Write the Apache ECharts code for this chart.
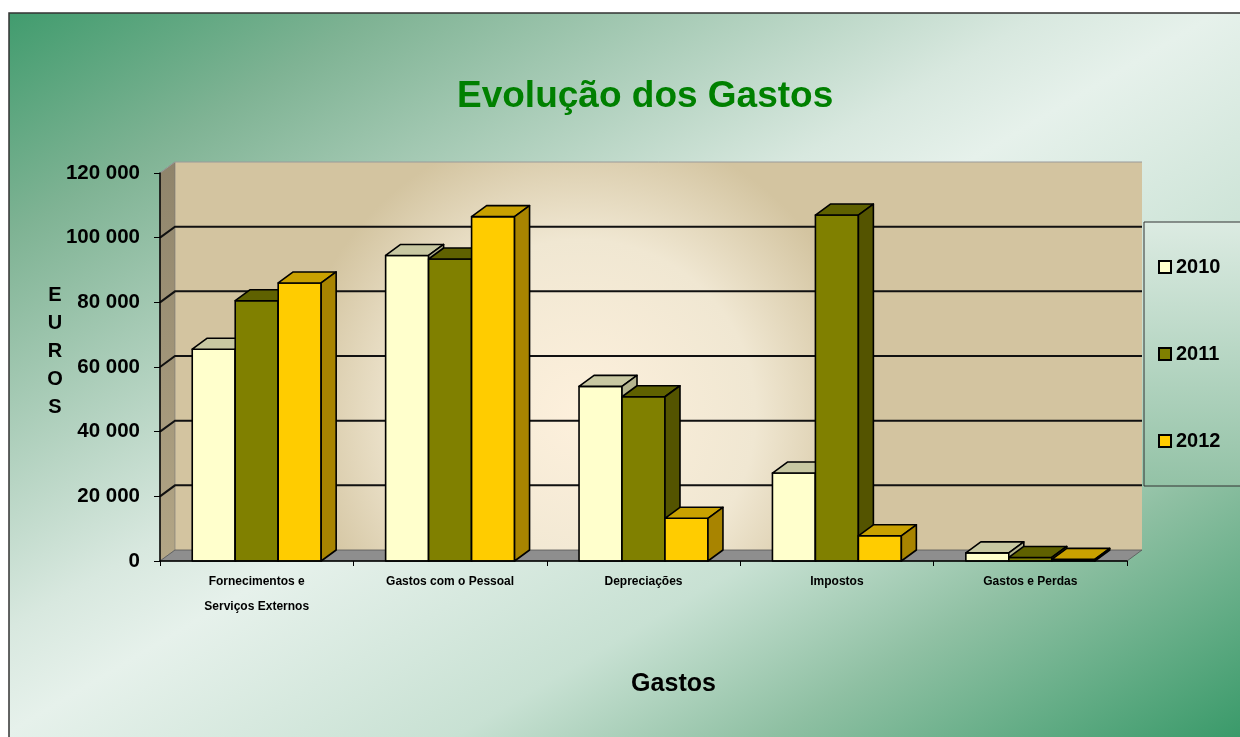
<!DOCTYPE html>
<html>
<head>
<meta charset="utf-8">
<script src="https://cdn.jsdelivr.net/npm/echarts@6/dist/echarts.min.js"></script>
<style>
  html, body { margin: 0; padding: 0; background: #fff; }
  #main { width: 1240px; height: 737px; }
</style>
</head>
<body>
<div id="main"></div>
<script>
// dados
var gastos = ['Fornecimentos e\nServiços Externos', 'Gastos com o Pessoal', 'Depreciações', 'Impostos', 'Gastos e Perdas'];
var anos = ['2010', '2011', '2012'];
var valores2010 = [65500, 94500, 54000, 27200, 2500];
var valores2011 = [80500, 93400, 50800, 107000, 1100];
var valores2012 = [86000, 106500, 13200, 7800, 500];
var yTicks = [0, 20000, 40000, 60000, 80000, 100000, 120000];

// cores: frente, topo, lado
var cores = [
    ['#ffffcc', '#c8c8a2', '#b4b48e'],
    ['#808000', '#5f6100', '#545400'],
    ['#ffcc00', '#c9a100', '#a88400']
];
var DX = 15, DY = -11;   // profundidade 3D
var FONT = 'Liberation Sans, Arial, sans-serif';

var myChart = echarts.init(document.getElementById('main'));

function fmt(v) {
    return String(v).replace(/\B(?=(\d{3})+(?!\d))/g, ' ');
}

// paredes, chão e linhas de grelha
function renderWalls(params, api) {
    var cs = params.coordSys;
    var x = cs.x, y = cs.y, w = cs.width, h = cs.height;
    var wallFill = new echarts.graphic.RadialGradient(0.42, 0.65, 0.75, [
        {offset: 0, color: '#fdf0dc'},
        {offset: 0.6, color: '#f0e7d2'},
        {offset: 1, color: '#d3c4a0'}
    ]);
    var sideFill = new echarts.graphic.LinearGradient(0, 0, 0, 1, [
        {offset: 0, color: '#8f846b'},
        {offset: 1, color: '#b3a686'}
    ]);
    var children = [
        {type: 'rect', shape: {x: x + DX, y: y + DY, width: w, height: h}, style: {fill: wallFill}},
        {type: 'polygon', shape: {points: [[x, y], [x + DX, y + DY], [x + DX, y + h + DY], [x, y + h]]},
            style: {fill: sideFill, stroke: '#777', lineWidth: 0.6}},
        {type: 'polygon', shape: {points: [[x, y + h], [x + DX, y + h + DY], [x + w + DX, y + h + DY], [x + w, y + h]]},
            style: {fill: '#8e8e8e', stroke: '#555', lineWidth: 0.8}}
    ];
    yTicks.forEach(function (v) {
        if (v === 0) return;
        var py = api.coord([0, v])[1];
        var top = v === yTicks[yTicks.length - 1];
        children.push({
            type: 'polyline',
            shape: {points: [[x, py], [x + DX, py + DY], [x + w + DX, py + DY]]},
            style: {fill: null, stroke: top ? '#9a9a9a' : '#111', lineWidth: top ? 1 : 2}
        });
    });
    return {type: 'group', children: children};
}

function makeBars(idx) {
    return function (params, api) {
        var cat = api.value(0);
        var top = api.coord([cat, api.value(1)]);
        var base = api.coord([cat, 0]);
        var band = api.size([1, 0])[0];
        var bw = band * 0.2222;
        var x0 = top[0] - 1.5 * bw + idx * bw;
        var t = top[1], b = base[1];
        var c = cores[idx];
        var line = {stroke: '#000', lineWidth: 1.6, lineJoin: 'round'};
        return {
            type: 'group',
            children: [
                {type: 'rect', shape: {x: x0, y: t, width: bw, height: b - t},
                    style: Object.assign({fill: c[0]}, line)},
                {type: 'polygon', shape: {points: [[x0, t], [x0 + DX, t + DY], [x0 + bw + DX, t + DY], [x0 + bw, t]]},
                    style: Object.assign({fill: c[1]}, line)},
                {type: 'polygon', shape: {points: [[x0 + bw, t], [x0 + bw + DX, t + DY], [x0 + bw + DX, b + DY], [x0 + bw, b]]},
                    style: Object.assign({fill: c[2]}, line)}
            ]
        };
    };
}

var series = [{
    type: 'custom',
    name: 'walls',
    z: 1,
    silent: true,
    renderItem: renderWalls,
    data: [[0, 0]]
}];
[valores2010, valores2011, valores2012].forEach(function (vals, i) {
    series.push({
        type: 'custom',
        name: anos[i],
        z: 3,
        itemStyle: {color: cores[i][0]},
        renderItem: makeBars(i),
        data: vals.map(function (v, k) { return [k, v]; })
    });
});

var bgFill = new echarts.graphic.LinearGradient(296, -176, 944, 913, [
    {offset: 0, color: '#3c9a6b'},
    {offset: 0.163, color: '#7fb394'},
    {offset: 0.43, color: '#d8e8df'},
    {offset: 0.5, color: '#e6f1eb'},
    {offset: 0.683, color: '#c8e1d3'},
    {offset: 0.81, color: '#8fc0a3'},
    {offset: 1, color: '#3a9a6a'}
], true);

option = {
    animation: false,
    color: [cores[0][0], cores[1][0], cores[2][0]],
    graphic: [{
        type: 'rect',
        z: -10,
        silent: true,
        shape: {x: 9, y: 13, width: 1240, height: 740},
        style: {fill: bgFill, stroke: '#333', lineWidth: 1.5}
    }],
    title: [{
        text: 'Evolução dos Gastos',
        left: 457,
        top: 78,
        padding: 0,
        textStyle: {color: '#008000', fontSize: 37, fontWeight: 'bold', fontFamily: FONT}
    }, {
        // título do eixo vertical, letra a letra
        text: 'E\nU\nR\nO\nS',
        left: 55,
        top: 281,
        padding: 0,
        textAlign: 'center',
        textStyle: {color: '#000', fontSize: 20, fontWeight: 'bold', fontFamily: FONT, lineHeight: 28}
    }],
    legend: {
        data: anos,
        orient: 'vertical',
        left: 1144,
        top: 222,
        padding: [35, 40, 35, 14],
        itemGap: 67,
        itemWidth: 12,
        itemHeight: 12,
        icon: 'rect',
        itemStyle: {borderColor: '#000', borderWidth: 2},
        backgroundColor: new echarts.graphic.LinearGradient(0, 0, 0, 1, [
            {offset: 0, color: '#dcebe2'},
            {offset: 1, color: '#93c2a6'}
        ]),
        borderColor: '#333',
        borderWidth: 1,
        textStyle: {fontSize: 20, fontWeight: 'bold', color: '#000', fontFamily: FONT}
    },
    grid: {
        left: 160,
        right: 113,
        top: 173,
        bottom: 176,
        containLabel: false,
        outerBoundsMode: 'none'
    },
    xAxis: {
        type: 'category',
        data: gastos,
        z: 5,
        name: 'Gastos',
        nameLocation: 'middle',
        nameGap: 123,
        nameTextStyle: {fontSize: 25, fontWeight: 'bold', color: '#000', fontFamily: FONT,
            verticalAlign: 'middle', align: 'center', padding: [0, 0, 0, 60]},
        axisLine: {lineStyle: {color: '#000', width: 1.5}},
        axisTick: {show: true, length: 5, lineStyle: {color: '#000'}},
        axisLabel: {interval: 0, margin: 8, fontSize: 12, fontWeight: 'bold', color: '#000',
            fontFamily: FONT, lineHeight: 25, verticalAlign: 'top'}
    },
    yAxis: {
        type: 'value',
        min: 0,
        max: 120000,
        interval: 20000,
        z: 5,
        axisLine: {show: true, lineStyle: {color: '#000', width: 1.5}},
        axisTick: {show: true, length: 6, lineStyle: {color: '#000'}},
        splitLine: {show: false},
        axisLabel: {margin: 20, fontSize: 20.5, fontWeight: 'bold', color: '#000', fontFamily: FONT,
            formatter: fmt}
    },
    series: series
};

myChart.setOption(option);
</script>
</body>
</html>
